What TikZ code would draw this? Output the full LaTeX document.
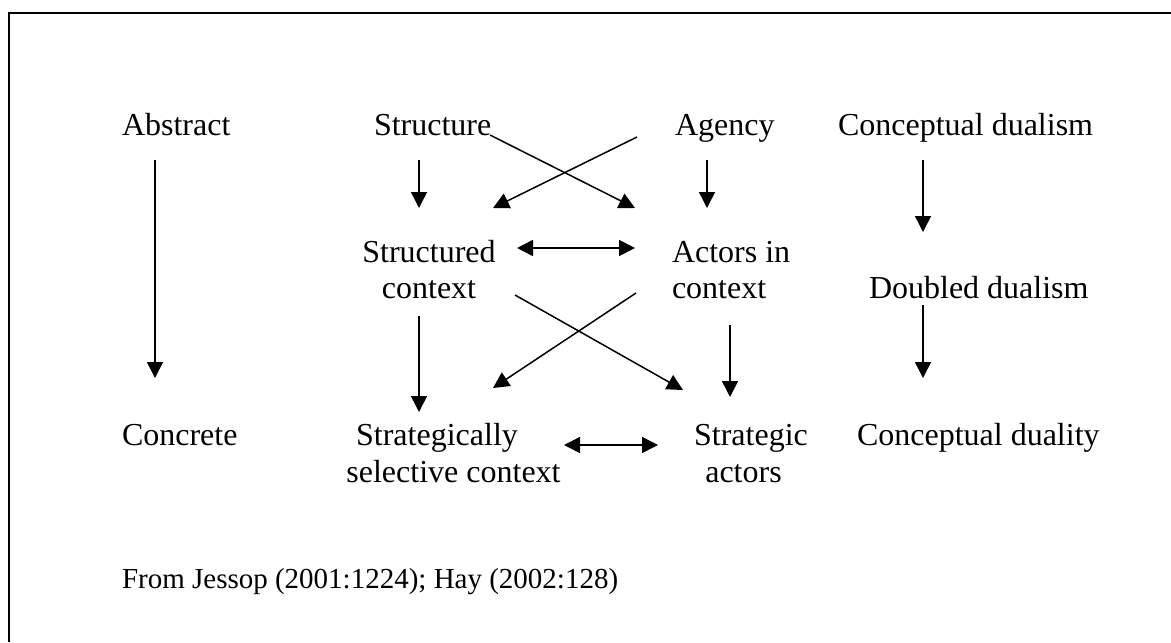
\documentclass[tikz,border=0pt]{standalone}
\usepackage{fontspec}
\setmainfont{Liberation Serif}
\usetikzlibrary{arrows.meta,calc}

\tikzset{
  label/.style={inner sep=0pt, outer sep=0pt, font=\fontsize{16}{18}\selectfont},
  twoline/.style={inner sep=0pt, outer sep=0pt, font=\fontsize{16}{18.5}\selectfont},
  foot/.style={inner sep=0pt, outer sep=0pt, font=\fontsize{14.5}{17}\selectfont},
  tip/.style={Triangle[length=8pt,width=8pt]},
  arr/.style={line width=0.75pt, -{Triangle[length=8pt,width=8pt]}},
  darr/.style={line width=0.75pt, {Triangle[length=8pt,width=8pt]}-{Triangle[length=8pt,width=8pt]}},
  frame/.style={line width=1pt}
}

\begin{document}
\begin{tikzpicture}[x=0.5pt, y=-0.5pt]
  \useasboundingbox (0,0) rectangle (1171,642);
  \fill[white] (0,0) rectangle (1171,642);

  % open frame: top and left edges
  \draw[frame] (9,642) -- (9,13) -- (1171,13);

  % top row
  \node[label, anchor=base west] (abs)    at (122,135) {Abstract};
  \node[label, anchor=base west] (struct) at (374,135) {Structure};
  \node[label, anchor=base west] (agency) at (675,135) {Agency};
  \node[label, anchor=base west] (cdual)  at (838,135) {Conceptual dualism};

  % middle row
  \node[label, anchor=base] (sctx) at (429,262)
    {\begin{tabular}[t]{@{}c@{}}Structured\\context\end{tabular}};
  \node[label, anchor=base west] (actx) at (672,262)
    {\begin{tabular}[t]{@{}l@{}}Actors in\\context\end{tabular}};
  \node[label, anchor=base west] (ddual) at (869,298) {Doubled dualism};

  % bottom row
  \node[label, anchor=base west] (conc) at (122,445) {Concrete};
  \node[twoline, anchor=base] (ssctx) at (453.5,445)
    {\begin{tabular}[t]{@{}c@{}}Strategically\hspace*{16.5pt}\\selective context\end{tabular}};
  \node[twoline, anchor=base] (sact) at (747,445)
    {\begin{tabular}[t]{@{}c@{}}\hspace*{4pt}Strategic\\actors\hspace*{3.5pt}\end{tabular}};
  \node[label, anchor=base west] (cduality) at (857,445) {Conceptual duality};

  % source line
  \node[foot, anchor=base west] (src) at (122,588) {From Jessop (2001:1224); Hay (2002:128)};

  % abstract to concrete
  \draw[arr] ($(abs.base west)+(33,25)$) -- ($(conc.base west)+(33,-67)$);

  % structure / agency to their contexts
  \draw[arr] ($(struct.base west)+(45,25)$) -- ($(sctx.base)+(-10,-54)$);
  \draw[arr] ($(struct.base west)+(116,0)$) -- ($(actx.base west)+(-37,-54)$);
  \draw[arr] ($(agency.base west)+(-38,2)$) -- ($(sctx.base)+(64,-54)$);
  \draw[arr] ($(agency.base west)+(32,25)$) -- ($(actx.base west)+(35,-54)$);

  % dualism column
  \draw[arr] ($(cdual.base west)+(85,25)$) -- ($(ddual.base west)+(54,-66)$);
  \draw[arr] ($(ddual.base west)+(54,7)$) -- ($(cduality.base west)+(66,-67)$);

  % context interplay
  \draw[darr] ($(sctx.base)+(88,-14)$) -- ($(actx.base west)+(-37,-14)$);

  % contexts to strategic level
  \draw[arr] ($(sctx.base)+(-10,54)$) -- ($(ssctx.base)+(-34.5,-33)$);
  \draw[arr] ($(sctx.base)+(86,33)$) -- ($(sact.base)+(-64,-55)$);
  \draw[arr] ($(actx.base west)+(-36,31)$) -- ($(ssctx.base)+(39.5,-57)$);
  \draw[arr] ($(actx.base west)+(58,63)$) -- ($(sact.base)+(-17,-48)$);

  % strategic interplay
  \draw[darr] ($(ssctx.base)+(110.5,0)$) -- ($(sact.base)+(-89,0)$);
\end{tikzpicture}
\end{document}
